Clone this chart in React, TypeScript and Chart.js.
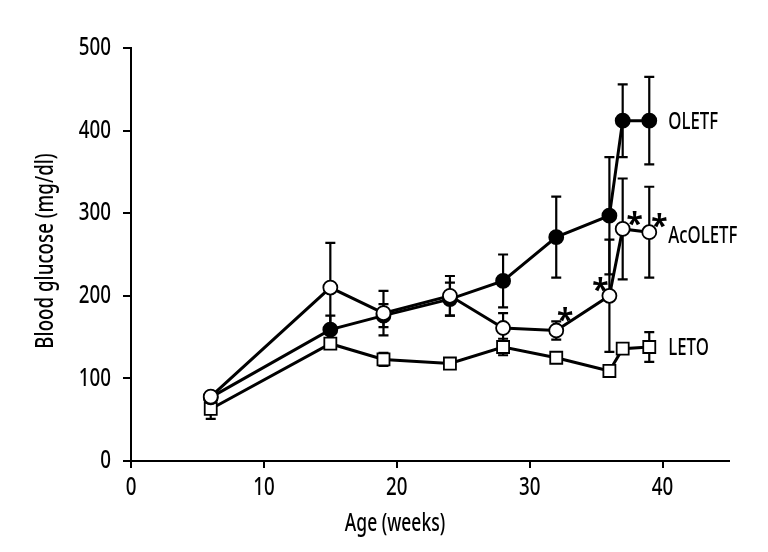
import React, { useEffect, useRef } from "react";
import { Chart, registerables } from "chart.js";

Chart.register(...registerables);

// ---- data ----
const weeks = [6, 15, 19, 24, 28, 32, 36, 37, 39];
const oletf = [77, 159, 176, 196, 218, 271, 297, 412, 412];
const oletfErr = [4, 17, 14, 20, 32, 49, 71, 44, 53];
const acoletf = [78, 210, 179, 200, 161, 158, 200, 281, 277];
const acoletfErr = [5, 54, 27, 24, 18, 11, 68, 61, 55];
const leto = [63, 142, 123, 118, 138, 125, 109, 136, 138];
const letoErr = [12, 5, 8, 3, 10, 5, 6, 4, 18];
const seriesNames = ["AcOLETF", "OLETF", "LETO"];
const acoletfSignificant = [32, 36, 37, 39];
const xTicks = [0, 10, 20, 30, 40];
const yTicks = [0, 100, 200, 300, 400, 500];
const xTitle = "Age (weeks)";
const yTitle = "Blood glucose (mg/dl)";

const FONT = '"Noto Sans", "Open Sans", "DejaVu Sans", sans-serif';

const errorSets = [acoletfErr, oletfErr, letoErr];

function condText(
  ctx: CanvasRenderingContext2D,
  text: string,
  x: number,
  y: number,
  size: number,
  align: CanvasTextAlign,
  rotate = 0,
  sx = 0.72,
  weight = "500"
) {
  ctx.save();
  ctx.translate(x, y);
  if (rotate) ctx.rotate(rotate);
  ctx.scale(sx, 1);
  ctx.font = `${weight} ${size}px ${FONT}`;
  ctx.textAlign = align;
  ctx.textBaseline = "middle";
  ctx.fillStyle = "#000";
  ctx.fillText(text, 0, 0);
  ctx.restore();
}

const errorBarPlugin = {
  id: "errorBars",
  beforeDatasetsDraw(chart: any) {
    const ctx = chart.ctx;
    const ys = chart.scales.y;
    ctx.save();
    ctx.strokeStyle = "#000";
    ctx.lineWidth = 2.2;
    chart.data.datasets.forEach((ds: any, di: number) => {
      const meta = chart.getDatasetMeta(di);
      const errs = errorSets[di];
      meta.data.forEach((pt: any, i: number) => {
        const v = ds.data[i].y;
        const e = errs[i];
        const x = pt.x;
        const yTop = ys.getPixelForValue(v + e);
        const yBot = ys.getPixelForValue(v - e);
        ctx.beginPath();
        ctx.moveTo(x, yTop);
        ctx.lineTo(x, yBot);
        ctx.moveTo(x - 5, yTop);
        ctx.lineTo(x + 5, yTop);
        ctx.moveTo(x - 5, yBot);
        ctx.lineTo(x + 5, yBot);
        ctx.stroke();
      });
    });
    ctx.restore();
  },
};

const asteriskOffsets: Record<number, [number, number]> = {
  32: [9, -16],
  36: [-9, -11],
  37: [12, -10],
  39: [10, -12],
};

const textPlugin = {
  id: "texts",
  afterDraw(chart: any) {
    const ctx = chart.ctx;
    const xs = chart.scales.x;
    const ys = chart.scales.y;
    // tick labels
    xTicks.forEach((v) => condText(ctx, String(v), xs.getPixelForValue(v), 488, 25, "center", 0, 0.75));
    yTicks.forEach((v) => condText(ctx, String(v), 111, ys.getPixelForValue(v), 25, "right", 0, 0.75));
    // axis titles
    condText(ctx, xTitle, 395, 524, 25, "center", 0, 0.7);
    condText(ctx, yTitle, 46, 251, 26, "center", -Math.PI / 2, 0.72);
    // series labels next to last points
    const lastVals = [acoletf, oletf, leto];
    const yAdj = [4, 1, 1];
    lastVals.forEach((arr, k) => {
      const xi = weeks.length - 1;
      const px = xs.getPixelForValue(weeks[xi]) + 19;
      const py = ys.getPixelForValue(arr[xi]) + yAdj[k];
      condText(ctx, seriesNames[k], px, py, 24, "left", 0, 0.7);
    });
    // asterisks
    acoletfSignificant.forEach((w) => {
      const i = weeks.indexOf(w);
      const [dx, dy] = asteriskOffsets[w];
      const px = xs.getPixelForValue(w) + dx;
      const py = ys.getPixelForValue(acoletf[i]) + dy;
      condText(ctx, "*", px, py + 7, 30, "center", 0, 1, "bold");
    });
  },
};

export default function App() {
  const ref = useRef<HTMLCanvasElement | null>(null);
  useEffect(() => {
    if (!ref.current) return;
    const mk = (vals: number[]) => vals.map((v, i) => ({ x: weeks[i], y: v }));
    const chart = new Chart(ref.current, {
      type: "line",
      data: {
        datasets: [
          {
            label: seriesNames[0],
            data: mk(acoletf),
            borderColor: "#000",
            borderWidth: 3,
            pointStyle: "circle",
            pointRadius: 7,
            pointBackgroundColor: "#fff",
            pointBorderColor: "#000",
            pointBorderWidth: 1.8,
            tension: 0,
          },
          {
            label: seriesNames[1],
            data: mk(oletf),
            borderColor: "#000",
            borderWidth: 3,
            pointStyle: "circle",
            pointRadius: 7,
            pointBackgroundColor: "#000",
            pointBorderColor: "#000",
            pointBorderWidth: 1.8,
            tension: 0,
          },
          {
            label: seriesNames[2],
            data: mk(leto),
            borderColor: "#000",
            borderWidth: 3,
            pointStyle: "rect",
            pointRadius: 8.5,
            pointBackgroundColor: "#fff",
            pointBorderColor: "#000",
            pointBorderWidth: 1.8,
            tension: 0,
          },
        ],
      },
      options: {
        animation: false,
        responsive: false,
        devicePixelRatio: 1,
        layout: { padding: { top: 48, right: 39, left: 0, bottom: 0 } },
        plugins: { legend: { display: false }, tooltip: { enabled: false } },
        scales: {
          x: {
            type: "linear",
            min: 0,
            max: 45,
            afterBuildTicks: (s: any) => {
              s.ticks = xTicks.map((v) => ({ value: v }));
            },
            afterFit: (s: any) => {
              s.height = 91;
            },
            ticks: { display: false },
            grid: { display: true, drawOnChartArea: false, drawTicks: true, tickLength: 7, color: "#000", lineWidth: 2 },
            border: { display: true, color: "#000", width: 2 },
          },
          y: {
            type: "linear",
            min: 0,
            max: 500,
            afterBuildTicks: (s: any) => {
              s.ticks = yTicks.map((v) => ({ value: v }));
            },
            afterFit: (s: any) => {
              s.width = 131;
            },
            ticks: { display: false },
            grid: { display: true, drawOnChartArea: false, drawTicks: true, tickLength: 8, color: "#000", lineWidth: 2 },
            border: { display: true, color: "#000", width: 2 },
          },
        },
      },
      plugins: [errorBarPlugin, textPlugin],
    });
    return () => chart.destroy();
  }, []);
  return (
    <div style={{ position: "absolute", left: 0, top: 0, width: 768, height: 552, background: "#fff" }}>
      <canvas ref={ref} width={768} height={552} style={{ display: "block" }} />
    </div>
  );
}
